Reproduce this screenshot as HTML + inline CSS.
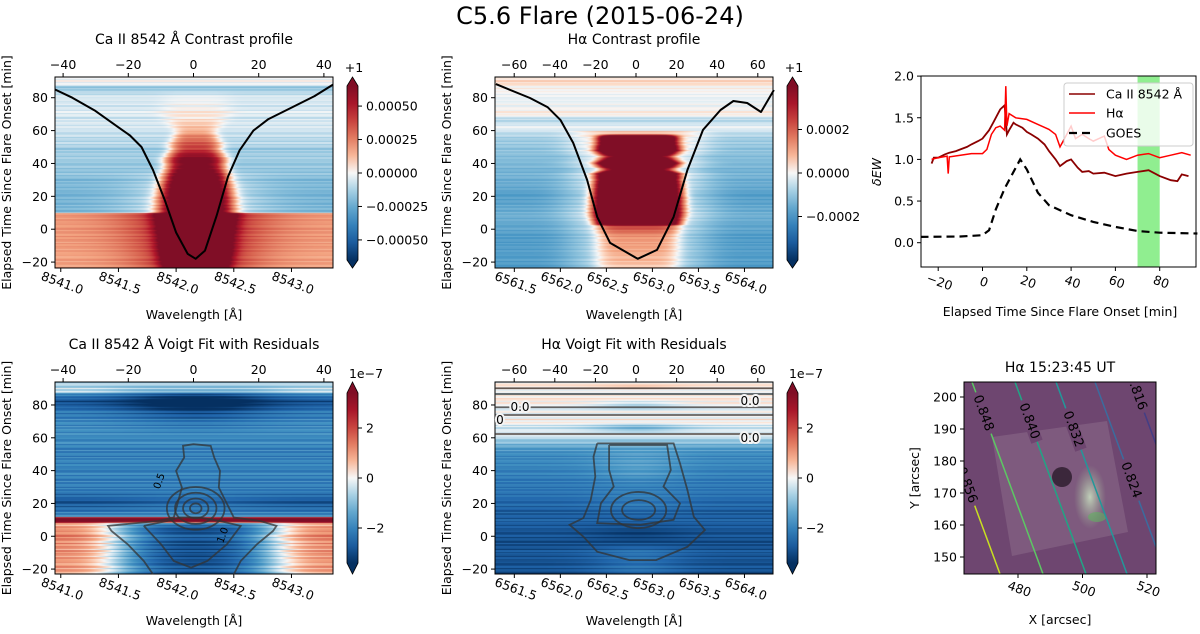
<!DOCTYPE html>
<html><head><meta charset="utf-8">
<style>
html,body{margin:0;padding:0;background:#fff;}
#wrap{position:relative;width:1200px;height:634px;overflow:hidden;font-family:"DejaVu Sans","Liberation Sans",sans-serif;}
canvas{position:absolute;}
svg{position:absolute;left:0;top:0;}
text{font-family:"DejaVu Sans","Liberation Sans",sans-serif;fill:#000;}
</style></head>
<body>
<div id="wrap">
<canvas id="c1" width="278" height="191" style="left:55px;top:77px"></canvas>
<canvas id="c2" width="278" height="191" style="left:495px;top:77px"></canvas>
<canvas id="c3" width="278" height="192" style="left:55px;top:382px"></canvas>
<canvas id="c4" width="278" height="192" style="left:495px;top:382px"></canvas>
<svg id="s" width="1200" height="634"></svg>
</div>
<script>
// ---------- DATA ----------
const p1T   = [-24,-15,-5,5,9.9,10.1,20,30,38,42,48,52,56,60,70,80,86,88,93];
const p1Bg  = [0.28,0.25,0.3,0.28,0.28,-0.3,-0.35,-0.3,-0.25,-0.22,-0.22,-0.18,-0.15,-0.1,-0.08,-0.08,-0.25,-0.05,0];
const p1Amp = [1.5,1.5,1.5,1.5,1.5,1.5,1.5,1.5,1.3,1.3,0.9,0.7,0.55,0.3,0.12,0.05,0,0,0];
const p1W   = [0.26,0.29,0.3,0.32,0.33,0.32,0.31,0.28,0.25,0.26,0.22,0.22,0.19,0.18,0.3,0.3,0.3,0.3,0.3];
const p1Halo= [0.55,0.55,0.55,0.55,0.55,0.3,0.3,0.2,0,0,0,0,0,0,0,0,0,0,0];
const p1Center = 8542.17;
const p1CurveL = [8540.95,8541.1,8541.3,8541.5,8541.6,8541.7,8541.8,8541.9,8542.0,8542.1,8542.17,8542.25,8542.35,8542.45,8542.55,8542.67,8542.8,8543.0,8543.2,8543.36];
const p1CurveT = [85,80,72,62,57,50,36,18,-2,-15,-18,-13,8,32,48,60,67,74,81,88];
const p2T   = [-24,-5,2,3,10,20,30,34,36,40,44,48,52,56,58,62,66,70,80,86,90,93];
const p2Bg  = [-0.45,-0.45,-0.4,-0.4,-0.35,-0.45,-0.35,-0.35,-0.35,-0.3,-0.3,-0.25,-0.25,-0.2,-0.15,-0.03,-0.18,0.03,-0.05,0.03,0.1,0.03];
const p2Amp = [0.3,0.45,0.7,2,2,2,2,2,1.1,2,1.1,2,2,2,0,0,0,0,0,0,0,0];
const p2W   = [0.45,0.45,0.45,0.45,0.48,0.48,0.45,0.45,0.38,0.45,0.38,0.45,0.42,0.42,0.4,0.4,0.4,0.4,0.4,0.4,0.4,0.4];
const p2Center = 6562.84;
const p2CurveL = [6561.30,6561.67,6561.86,6562.0,6562.14,6562.29,6562.40,6562.54,6562.84,6563.05,6563.23,6563.38,6563.55,6563.74,6563.88,6564.03,6564.18,6564.32];
const p2CurveT = [88.3,79.8,74.3,66.5,52.5,30,7.5,-8.3,-18,-12.6,7.5,36,60.4,72.5,78,76.8,71.3,84.7];
const p3T    = [-24,-10,0,5,8,9,11,12,20,30,40,50,60,70,78,82,86,88,93];
const p3Bg   = [-0.5,-0.6,-0.5,-0.6,-0.5,1.5,1.5,-0.5,-0.85,-0.6,-0.6,-0.6,-0.55,-0.55,-0.7,-0.9,-0.6,-0.3,-0.2];
const p3Edge = [0.8,0.9,0.9,0.9,0.7,0,0,0,0,0,0,0,0,0,0,0,0,0.2,0];
const p3Dip  = [-0.3,-0.3,-0.3,-0.3,0,0,0,0,0.1,0,0,0,0,-0.1,-0.3,-0.4,-0.3,0,0];
const p4T    = [-24,-10,0,10,20,30,40,50,56,60,62,66,70,76,80,84,88,91,93];
const p4Bg   = [-0.85,-0.85,-0.85,-0.8,-0.75,-0.65,-0.6,-0.55,-0.35,-0.15,0,-0.15,0.05,-0.05,0,0.05,-0.05,0.15,0];
const p4Mid  = [0.15,0.15,-0.1,0,0.1,0.05,0.15,0.1,0,0,0,-0.25,0,0,-0.2,0,0,0.1,0];
const stripes = [0.05,-0.03,0.07,-0.08,0.02,0.04,-0.05,0.08,-0.06,0.01,0.03,-0.07,0.06,-0.01,-0.04,0.03,0.0,-0.02,0.05,-0.06,0.02];
const c3OuterL = [8541.80,8541.72,8541.58,8541.44,8541.41,8541.84,8541.98,8542.05,8542.00,8542.07,8542.06,8542.15,8542.30,8542.33,8542.38,8542.37,8542.50,8542.73,8542.87,8542.84,8542.70,8542.56,8542.50];
const c3OuterT = [-23.2,-15.1,-4.9,3.2,6.3,9.3,11.4,29.7,39.8,48,55.1,56.1,55.1,48,39.8,29.7,11.4,9.3,6.3,3.2,-4.9,-15.1,-23.2];
const c3InnerL = [8541.72,8541.92,8542.03,8542.20,8542.38,8542.56,8542.44,8542.27,8542.13,8541.98,8541.87,8541.72];
const c3InnerT = [6.3,9.3,11.4,11.4,9.3,6.3,-4.9,-15.1,-19.1,-15.1,-4.9,6.3];
const c3RingRx = [0.25,0.18,0.11,0.05];
const c3RingRy = [13,9.5,6,3];
const c4OuterL = [6562.40,6563.23,6563.30,6563.38,6563.45,6563.57,6563.38,6563.04,6562.75,6562.40,6562.25,6562.10,6562.25,6562.33,6562.38,6562.36,6562.40];
const c4OuterT = [56.6,56.6,44.4,28.2,11.9,3.8,-6.4,-14.5,-14.5,-9.4,-0.3,7.0,11.1,22.1,36.3,48.5,56.6];
const c4MidL = [6562.53,6563.16,6563.20,6563.12,6563.30,6563.23,6562.87,6562.40,6562.44,6562.58,6562.53,6562.53];
const c4MidT = [55.6,55.6,40.4,30.3,20.1,10,7,8,20.1,30.3,40.4,55.6];
const c4HLines = [90.2,86.7,78.6,73.9,62.3];
const c4RingRx = [0.3,0.18];
const c4RingRy = [11,6];
const caT = [-23,-22,-20,-17,-15,-12,-10,-7,-5,-2,0,3,5,7,8,10,11,12,14,15,18,20,22,25,28,30,33,35,38,40,43,45,48,50,55,60,65,70,75,80,85,88,90,93];
const caV = [0.95,1.02,1.02,1.06,1.08,1.1,1.12,1.15,1.18,1.22,1.25,1.35,1.45,1.55,1.6,1.65,1.3,1.35,1.44,1.42,1.38,1.33,1.3,1.25,1.18,1.1,1.0,0.92,0.98,1.0,0.9,0.85,0.86,0.83,0.84,0.80,0.83,0.85,0.87,0.80,0.75,0.74,0.82,0.80];
const haT = [-23,-20,-16,-15.5,-15,-10,-5,0,2,4,6,8,10,10.5,11,12,15,20,25,30,33,35,37,40,42,45,48,50,55,57,60,65,70,75,80,85,90,94];
const haV = [1.0,1.02,1.04,0.83,1.03,1.05,1.07,1.07,1.12,1.3,1.38,1.40,1.35,1.88,1.4,1.55,1.5,1.48,1.42,1.36,1.3,1.15,1.25,1.4,1.25,1.3,1.25,1.22,1.28,1.12,1.05,1.0,1.05,1.07,1.02,1.05,1.08,1.05];
const goesT = [-28,-10,0,3,6,10,14,17,20,25,30,40,50,60,70,80,97];
const goesV = [0.07,0.075,0.09,0.15,0.4,0.65,0.85,1.0,0.88,0.6,0.45,0.33,0.25,0.19,0.14,0.12,0.11];
const spanT = [70,80];
const ctxLevels = ["0.856","0.848","0.840","0.832","0.824","0.816"];
const ctxTopX = [929,972,1015,1056,1095,1133];

// ---------- HELPERS ----------
function interp(ts,vs,t){ if(t<=ts[0])return vs[0]; for(let i=1;i<ts.length;i++){ if(t<=ts[i]){const f=(t-ts[i-1])/(ts[i]-ts[i-1]);return vs[i-1]+f*(vs[i]-vs[i-1]);} } return vs[vs.length-1]; }
const cs=[[-1,[5,48,97]],[-0.75,[33,102,172]],[-0.5,[67,147,195]],[-0.25,[146,197,222]],[-0.1,[209,229,240]],[0,[247,247,247]],[0.1,[253,219,199]],[0.25,[244,165,130]],[0.5,[214,96,77]],[0.75,[178,24,43]],[1,[128,14,38]]];
function cmap(v){ v=Math.max(-1,Math.min(1,v)); for(let i=1;i<cs.length;i++){ if(v<=cs[i][0]){const a=cs[i-1],b=cs[i];const f=(v-a[0])/(b[0]-a[0]);return [0,1,2].map(k=>Math.round(a[1][k]+f*(b[1][k]-a[1][k])));} } return cs[cs.length-1][1]; }
const NS="http://www.w3.org/2000/svg";
const svg=document.getElementById('s');
function mk(tag,attrs,parent){const e=document.createElementNS(NS,tag);for(const k in attrs)e.setAttribute(k,attrs[k]);(parent||svg).appendChild(e);return e;}
function txt(x,y,s,size,anchor,parent,extra){const t=mk('text',Object.assign({x:x,y:y,'font-size':size,'text-anchor':anchor||'start'},extra||{}),parent);t.textContent=s;return t;}

const P1={x0:55,x1:333,y0:77,y1:268,l0:8540.95,l1:8543.36,tTop:92.6,tBot:-23.6};
const P2={x0:495,x1:773,y0:77,y1:268,l0:6561.29,l1:6564.31,tTop:92.6,tBot:-23.6};
const P3={x0:55,x1:333,y0:382,y1:574,l0:8540.95,l1:8543.36,tTop:94,tBot:-23};
const P4={x0:495,x1:773,y0:382,y1:574,l0:6561.29,l1:6564.31,tTop:94,tBot:-23};
function sx(P,l){return P.x0+(l-P.l0)/(P.l1-P.l0)*(P.x1-P.x0);}
function sy(P,t){return P.y0+(P.tTop-t)/(P.tTop-P.tBot)*(P.y1-P.y0);}

function heat(id,P,fn){const c=document.getElementById(id);const ctx=c.getContext('2d');const w=c.width,h=c.height;const img=ctx.createImageData(w,h);
 for(let y=0;y<h;y++){const t=P.tTop-(y+0.5)/h*(P.tTop-P.tBot);const st=stripes[Math.floor((t+30)/0.9)%stripes.length];
  for(let x=0;x<w;x++){const l=P.l0+(x+0.5)/w*(P.l1-P.l0);const col=cmap(fn(l,t,st));const i=(y*w+x)*4;img.data[i]=col[0];img.data[i+1]=col[1];img.data[i+2]=col[2];img.data[i+3]=255;}}
 ctx.putImageData(img,0,0);}

heat('c1',P1,(l,t,st)=>{const d=l-p1Center;const w=interp(p1T,p1W,t);return interp(p1T,p1Bg,t)+st+interp(p1T,p1Amp,t)*Math.exp(-Math.pow(d/w,4))+interp(p1T,p1Halo,t)*Math.exp(-Math.pow(d/(w*1.8),2));});
heat('c2',P2,(l,t,st)=>{const d=l-p2Center;const w=interp(p2T,p2W,t);return interp(p2T,p2Bg,t)+st*0.8+interp(p2T,p2Amp,t)*Math.exp(-Math.pow(d/w,6))+(t<60?0.3*Math.exp(-Math.pow(d/(w*1.7),4)):0);});
heat('c3',P3,(l,t,st)=>{const d=l-8542.17;return interp(p3T,p3Bg,t)+st*2+interp(p3T,p3Edge,t)*(1-Math.exp(-Math.pow(d/0.75,4)))+interp(p3T,p3Dip,t)*Math.exp(-Math.pow(d/0.6,2));});
heat('c4',P4,(l,t,st)=>{const d=l-6562.84;return interp(p4T,p4Bg,t)+st*1.5+interp(p4T,p4Mid,t)*Math.exp(-Math.pow(d/0.5,2));});

const title=txt(600,24,'C5.6 Flare (2015-06-24)',24,'middle');



const FS=12.5;
function panelAxes(P,name,ttl,wlTicks,velTicks,vel0,velScale,yTicks){
 const g=mk('g',{});
 
 
 const fr=mk('rect',{x:P.x0,y:P.y0,width:P.x1-P.x0,height:P.y1-P.y0,fill:'none',stroke:'#000','stroke-width':1},g);
 
 
 const tt=txt((P.x0+P.x1)/2,P.y0-33,ttl,14,'middle',g);
 
 
 wlTicks.forEach(l=>{const x=sx(P,l);mk('line',{x1:x,x2:x,y1:P.y1,y2:P.y1+4,stroke:'#000'},g);
  const t=txt(x,P.y1+19,l.toFixed(1),FS,'middle',g,{transform:`rotate(20 ${x} ${P.y1+19})`});
  
  });
 velTicks.forEach(v=>{const x=vel0+v*velScale;mk('line',{x1:x,x2:x,y1:P.y0,y2:P.y0-4,stroke:'#000'},g);
  const t=txt(x,P.y0-8,v<0?'\u2212'+(-v):String(v),FS,'middle',g);
  
  });
 yTicks.forEach(v=>{const y=sy(P,v);mk('line',{x1:P.x0,x2:P.x0-4,y1:y,y2:y,stroke:'#000'},g);
  const t=txt(P.x0-7,y+4.5,v<0?'\u2212'+(-v):String(v),FS,'end',g);
  
  });
 const xl=txt((P.x0+P.x1)/2,P.y1+51,'Wavelength [Å]',FS,'middle',g);
 
 
 const yc=(P.y0+P.y1)/2;const yl=txt(P.x0-44,yc,'Elapsed Time Since Flare Onset [min]',FS,'middle',g,{transform:`rotate(-90 ${P.x0-44} ${yc})`});
 
 
 return g;}
const yT=[-20,0,20,40,60,80];
panelAxes(P1,'ca-contrast-panel','Ca II 8542 Å Contrast profile',[8541.0,8541.5,8542.0,8542.5,8543.0],[-40,-20,0,20,40],193.5,3.26,yT);
panelAxes(P2,'halpha-contrast-panel','Hα Contrast profile',[6561.5,6562.0,6562.5,6563.0,6563.5,6564.0],[-60,-40,-20,0,20,40,60],636,2.03,yT);
panelAxes(P3,'ca-residual-panel','Ca II 8542 Å Voigt Fit with Residuals',[8541.0,8541.5,8542.0,8542.5,8543.0],[-40,-20,0,20,40],193.5,3.26,yT);
panelAxes(P4,'halpha-residual-panel','Hα Voigt Fit with Residuals',[6561.5,6562.0,6562.5,6563.0,6563.5,6564.0],[-60,-40,-20,0,20,40,60],636,2.03,yT);

function poly(P,L,T){return L.map((l,i)=>sx(P,l).toFixed(1)+','+sy(P,T[i]).toFixed(1)).join(' ');}
const cv1=mk('polyline',{points:poly(P1,p1CurveL,p1CurveT),fill:'none',stroke:'#000','stroke-width':2,'stroke-linejoin':'round'});


const cv2=mk('polyline',{points:poly(P2,p2CurveL,p2CurveT),fill:'none',stroke:'#000','stroke-width':2,'stroke-linejoin':'round'});



const cst={fill:'none',stroke:'#333','stroke-opacity':0.75,'stroke-width':1.8};
const k1=mk('polyline',Object.assign({points:poly(P3,c3OuterL,c3OuterT)},cst));


const k2=mk('polyline',Object.assign({points:poly(P3,c3InnerL,c3InnerT)},cst));


c3RingRx.forEach((rx,i)=>{const e=mk('ellipse',Object.assign({cx:sx(P3,8542.17),cy:sy(P3,17),rx:rx*(P3.x1-P3.x0)/(P3.l1-P3.l0),ry:c3RingRy[i]*(P3.y1-P3.y0)/(P3.tTop-P3.tBot)},cst));
 
 });
[['0.5',8541.88,33],['1.0',8542.43,0]].forEach(a=>{const t=txt(sx(P3,a[1]),sy(P3,a[2]),a[0],10,'middle',undefined,{fill:'#444',transform:`rotate(-70 ${sx(P3,a[1])} ${sy(P3,a[2])})`});
 
 });
const k3=mk('polyline',Object.assign({points:poly(P4,c4OuterL,c4OuterT)},cst));


const k4=mk('polyline',Object.assign({points:poly(P4,c4MidL,c4MidT)},cst));


c4RingRx.forEach((rx,i)=>{const e=mk('ellipse',Object.assign({cx:sx(P4,6562.85),cy:sy(P4,16),rx:rx*(P4.x1-P4.x0)/(P4.l1-P4.l0),ry:c4RingRy[i]*(P4.y1-P4.y0)/(P4.tTop-P4.tBot)},cst));
 
 });
c4HLines.forEach((t,i)=>{const y=sy(P4,t);const ln=mk('line',Object.assign({x1:P4.x0,x2:P4.x1,y1:y,y2:y},cst));
 
 });
[[750,405,'0.0'],[520,411,'0.0'],[500,424,'0'],[750,442,'0.0']].forEach(a=>{const t=txt(a[0],a[1],a[2],12,'middle',undefined,{fill:'#555',stroke:'#f4f4f4','stroke-width':4,'paint-order':'stroke'});
 
 });

function colorbar(x,top,rt,rb,bot,name,ticks,vmax,fmt,header){
 const g=mk('g',{});
 
 
 const gid=name+'-grad';const defs=mk('defs',{},g);const lg=mk('linearGradient',{id:gid,x1:0,y1:1,x2:0,y2:0},defs);
 for(let i=0;i<=10;i++){const v=-1+i*0.2;const c=cmap(v);mk('stop',{offset:i/10,'stop-color':`rgb(${c})`},lg);}
 const w=11;
 mk('rect',{x:x,y:rt,width:w,height:rb-rt,fill:`url(#${gid})`},g);
 mk('polygon',{points:`${x},${rt} ${x+w/2},${top} ${x+w},${rt}`,fill:`rgb(${cmap(1)})`},g);
 mk('polygon',{points:`${x},${rb} ${x+w/2},${bot} ${x+w},${rb}`,fill:`rgb(${cmap(-1)})`},g);
 mk('polygon',{points:`${x},${rt} ${x+w/2},${top} ${x+w},${rt} ${x+w},${rb} ${x+w/2},${bot} ${x},${rb}`,fill:'none',stroke:'#000','stroke-width':0.8},g);
 const mid=(rt+rb)/2,half=(rb-rt)/2;
 ticks.forEach(v=>{const y=mid-v/vmax*half;mk('line',{x1:x+w,x2:x+w+4,y1:y,y2:y,stroke:'#000'},g);
  const t=txt(x+w+8,y+4.5,fmt(v),FS,'start',g);
  
  });
 const h=txt(header[0],header[1],header[2],FS,'middle',g);
 
 }
const m=s=>s.replace('-','\u2212');
colorbar(347,77,86,260,268,'ca-contrast-colorbar',[0.0005,0.00025,0,-0.00025,-0.0005],0.00065,v=>m(v.toFixed(5)),[354,72,'+1']);
colorbar(787,77,86,260,268,'halpha-contrast-colorbar',[0.0002,0,-0.0002],0.0004,v=>m(v.toFixed(4)),[794,72,'+1']);
colorbar(347,382,393,563,574,'ca-residual-colorbar',[2,0,-2],3.4,v=>m(String(v)),[366,378,'1e\u22127']);
colorbar(787,382,393,563,574,'halpha-residual-colorbar',[2,0,-2],3.4,v=>m(String(v)),[806,378,'1e\u22127']);

// ---------- Light curve panel ----------
const L={x0:921,x1:1196,y0:76,y1:267};
const lx=t=>982.5+t*2.215, ly=v=>242.7-v*83.3;
const lg=mk('g',{});


const span=mk('rect',{x:lx(spanT[0]),y:L.y0,width:lx(spanT[1])-lx(spanT[0]),height:L.y1-L.y0,fill:'#90ee90'},lg);


const lineOf=(T,V)=>T.map((t,i)=>lx(t).toFixed(1)+','+ly(V[i]).toFixed(1)).join(' ');
const s1=mk('polyline',{points:lineOf(caT,caV),fill:'none',stroke:'#8b0000','stroke-width':1.8},lg);


const s2=mk('polyline',{points:lineOf(haT,haV),fill:'none',stroke:'#ff0000','stroke-width':1.5},lg);


const s3=mk('polyline',{points:lineOf(goesT,goesV),fill:'none',stroke:'#000','stroke-width':2.2,'stroke-dasharray':'8,5'},lg);


const lfr=mk('rect',{x:L.x0,y:L.y0,width:L.x1-L.x0,height:L.y1-L.y0,fill:'none',stroke:'#000'},lg);


[0,0.5,1.0,1.5,2.0].forEach(v=>{const y=ly(v);mk('line',{x1:L.x0,x2:L.x0-4,y1:y,y2:y,stroke:'#000'},lg);
 const t=txt(L.x0-7,y+4.5,v.toFixed(1),FS,'end',lg);
 
 });
[-20,0,20,40,60,80].forEach(v=>{const x=lx(v);mk('line',{x1:x,x2:x,y1:L.y1,y2:L.y1+4,stroke:'#000'},lg);
 const t=txt(x,L.y1+19,v<0?'\u2212'+(-v):String(v),FS,'middle',lg,{transform:`rotate(20 ${x} ${L.y1+19})`});
 
 });
const lxl=txt(1060,316,'Elapsed Time Since Flare Onset [min]',FS,'middle',lg);


const lyl=txt(881,172,'δEW',FS,'middle',lg,{transform:'rotate(-90 881 172)','font-style':'italic'});


const leg=mk('g',{},lg);


mk('rect',{x:1064,y:83,width:129,height:63,rx:3,fill:'#fff','fill-opacity':0.8,stroke:'#ccc'},leg);
[['Ca II 8542 Å','#8b0000',94,''],['Hα','#ff0000',113,''],['GOES','#000',133,'8,5']].forEach(e=>{
 const g=mk('g',{},leg);
 
 
 mk('line',{x1:1069,x2:1095,y1:e[2],y2:e[2],stroke:e[1],'stroke-width':e[3]?2.2:1.6,'stroke-dasharray':e[3]||'none'},g);
 txt(1106,e[2]+4.5,e[0],FS,'start',g);});

// ---------- Context image panel ----------
const I={x0:964,x1:1156,y0:382,y1:574};
const ig=mk('g',{});


const cd=mk('defs',{},ig);const cp=mk('clipPath',{id:'ic'},cd);mk('rect',{x:I.x0,y:I.y0,width:I.x1-I.x0,height:I.y1-I.y0},cp);
const rg=mk('radialGradient',{id:'brt',cx:0.5,cy:0.5,r:0.5},cd);mk('stop',{offset:0,'stop-color':'#c8dcc0','stop-opacity':0.9},rg);mk('stop',{offset:1,'stop-color':'#a0b898','stop-opacity':0},rg);
const inner=mk('g',{'clip-path':'url(#ic)'},ig);
mk('rect',{x:I.x0,y:I.y0,width:I.x1-I.x0,height:I.y1-I.y0,fill:'#6e4670'},inner);
const sun=mk('polygon',{points:'992,437 1107,421 1128,532 1012,556',fill:'#7e5a7e'},inner);


mk('ellipse',{cx:1062,cy:477,rx:10,ry:10,fill:'#2a1a2a','fill-opacity':0.8},inner);
mk('ellipse',{cx:1090,cy:497,rx:16,ry:32,fill:'url(#brt)'},inner);
mk('ellipse',{cx:1097,cy:517,rx:9,ry:5,fill:'#60b060','fill-opacity':0.6},inner);
const ccols=['#c8e020','#5cc863','#21a585','#22989a','#3b6c9e','#433e85'];
ctxLevels.forEach((lv,i)=>{const xt=ctxTopX[i];const ln=mk('line',{x1:xt,y1:I.y0,x2:xt+71,y2:I.y1,stroke:ccols[i],'stroke-width':1.5},inner);
 
 
 const fy=i===0?485:(i===5?392:(i===4?480:405+i*8));const fx=xt+(fy-I.y0)*0.37;
 mk('rect',{x:fx-6,y:fy-22,width:12,height:44,fill:'#6e4670',transform:`rotate(-20 ${fx} ${fy})`},inner);
 const t=txt(fx,fy+4,lv,13,'middle',inner,{fill:ccols[i],transform:`rotate(70 ${fx} ${fy})`});
 
 });
mk('rect',{x:I.x0,y:I.y0,width:I.x1-I.x0,height:I.y1-I.y0,fill:'none',stroke:'#000'},ig);
const it=txt(1060,372,'Hα   15:23:45 UT',14,'middle',ig,{'xml:space':'preserve'});


[150,160,170,180,190,200].forEach(v=>{const y=557-(v-150)*3.2;mk('line',{x1:I.x0,x2:I.x0-4,y1:y,y2:y,stroke:'#000'},ig);
 const t=txt(I.x0-7,y+4.5,String(v),FS,'end',ig);
 
 });
[480,500,520].forEach(v=>{const x=1018+(v-480)*3.225;mk('line',{x1:x,x2:x,y1:I.y1,y2:I.y1+4,stroke:'#000'},ig);
 const t=txt(x,I.y1+19,String(v),FS,'middle',ig,{transform:`rotate(20 ${x} ${I.y1+19})`});
 
 });
const ixl=txt(1060,624,'X [arcsec]',FS,'middle',ig);


const iyl=txt(919,478,'Y [arcsec]',FS,'middle',ig,{transform:'rotate(-90 919 478)'});


</script>
</body></html>
